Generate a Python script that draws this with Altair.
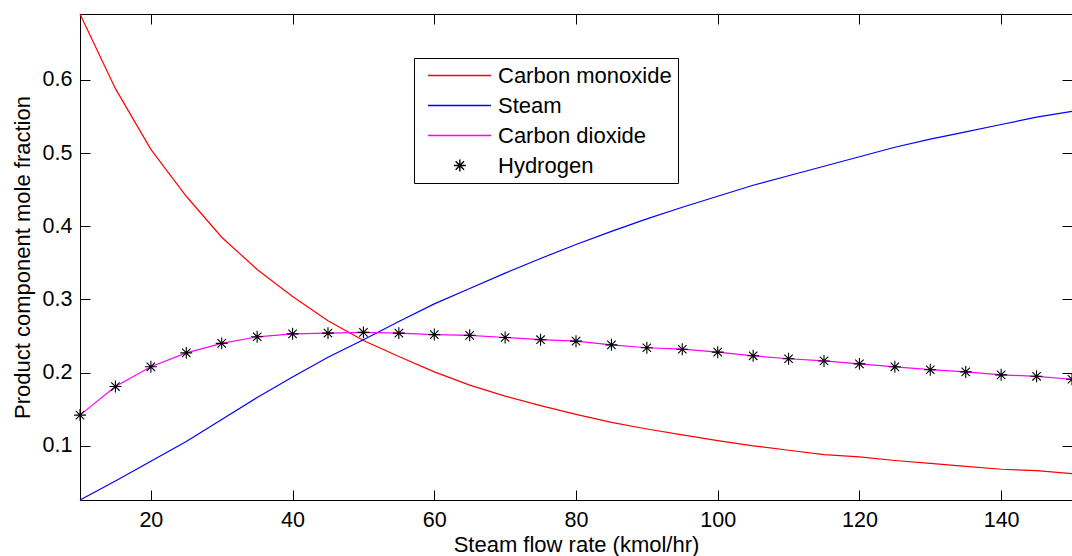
import altair as alt
import pandas as pd

flow = [10, 15, 20, 25, 30, 35, 40, 45, 50, 55, 60, 65, 70, 75, 80,
        85, 90, 95, 100, 105, 110, 115, 120, 125, 130, 135, 140, 145, 150]
carbon_monoxide = [0.690, 0.588, 0.505, 0.441, 0.385, 0.341, 0.304, 0.271, 0.244, 0.222,
                   0.201, 0.183, 0.168, 0.155, 0.143, 0.132, 0.123, 0.115, 0.107, 0.100,
                   0.094, 0.088, 0.085, 0.080, 0.076, 0.072, 0.068, 0.066, 0.062]
steam = [0.026, 0.052, 0.079, 0.106, 0.136, 0.166, 0.194, 0.221, 0.245, 0.270,
         0.294, 0.315, 0.336, 0.356, 0.375, 0.393, 0.410, 0.426, 0.441, 0.456,
         0.469, 0.482, 0.495, 0.508, 0.519, 0.529, 0.539, 0.549, 0.557]
carbon_dioxide = [0.142, 0.181, 0.208, 0.227, 0.240, 0.249, 0.253, 0.254, 0.255, 0.254,
                  0.252, 0.251, 0.248, 0.245, 0.243, 0.238, 0.234, 0.232, 0.228, 0.223,
                  0.219, 0.216, 0.212, 0.208, 0.204, 0.201, 0.197, 0.195, 0.191]
hydrogen = [0.142, 0.181, 0.208, 0.227, 0.240, 0.249, 0.253, 0.254, 0.255, 0.254,
            0.252, 0.251, 0.248, 0.245, 0.243, 0.238, 0.234, 0.232, 0.228, 0.223,
            0.219, 0.216, 0.212, 0.208, 0.204, 0.201, 0.197, 0.195, 0.191]

names = ["Carbon monoxide", "Steam", "Carbon dioxide", "Hydrogen"]
colors = ["#ff0000", "#0000ff", "#ff00ff", "#000000"]
x_ticks = [20, 40, 60, 80, 100, 120, 140]
y_ticks = [0.1, 0.2, 0.3, 0.4, 0.5, 0.6]

FONT = "Liberation Sans"
ASTERISK = "M-0.57,0L0.57,0M0,-0.57L0,0.57M-0.4,-0.4L0.4,0.4M-0.4,0.4L0.4,-0.4"
LEG_LINE = "M-0.333,0L5.667,0"
LEG_AST = "M2.13,0L3.27,0M2.7,-0.57L2.7,0.57M2.3,-0.4L3.1,0.4M2.3,0.4L3.1,-0.4"

rows = []
for name, vals in zip(names[:3], [carbon_monoxide, steam, carbon_dioxide]):
    for f, v in zip(flow, vals):
        rows.append({"flow": f, "value": v, "series": name})
lines_df = pd.DataFrame(rows)
h_df = pd.DataFrame({"flow": flow, "h": hydrogen})
legend_df = pd.DataFrame({"series": names})

xscale = alt.Scale(domain=[10, 150], nice=False, zero=False)
yscale = alt.Scale(domain=[0.026, 0.69], nice=False, zero=False)

lines = alt.Chart(lines_df).mark_line(strokeWidth=1.2).encode(
    x=alt.X("flow:Q", scale=xscale,
            axis=alt.Axis(orient="bottom", values=x_ticks, title="Steam flow rate (kmol/hr)",
                          offset=-10, tickSize=10, domain=False, grid=False,
                          labelPadding=9, labelFontSize=21.5, titleFontSize=22,
                          titleY=61, titleBaseline="alphabetic")),
    y=alt.Y("value:Q", scale=yscale,
            axis=alt.Axis(orient="left", values=y_ticks, format=".1f",
                          title="Product component mole fraction",
                          offset=-10, tickSize=10, domain=False, grid=False,
                          labelPadding=8, labelFontSize=21.5, titleFontSize=22,
                          titleX=-68, titleY=243, titleBaseline="middle")),
    color=alt.Color("series:N", scale=alt.Scale(domain=names[:3], range=colors[:3]), legend=None),
)

pts = alt.Chart(h_df).mark_point(shape=ASTERISK, size=441, color="black",
                                 strokeWidth=1.1, filled=False, opacity=1).encode(
    x=alt.X("flow:Q", scale=xscale,
            axis=alt.Axis(orient="top", values=x_ticks, labels=False, title=None,
                          offset=-10, tickSize=10, domain=False, grid=False)),
    y=alt.Y("h:Q", scale=yscale,
            axis=alt.Axis(orient="right", values=y_ticks, labels=False, title=None,
                          offset=-10, tickSize=10, domain=False, grid=False)),
)

leg = alt.Chart(legend_df).transform_filter("false").mark_point(
    size=441, strokeWidth=1.4, filled=False, opacity=1).encode(
    color=alt.Color("series:N", scale=alt.Scale(domain=names, range=colors),
                    legend=alt.Legend(title=None)),
    shape=alt.Shape("series:N", scale=alt.Scale(domain=names, range=[LEG_LINE, LEG_LINE, LEG_LINE, LEG_AST]),
                    legend=alt.Legend(title=None)),
)

chart = alt.layer(lines, pts, leg).resolve_scale(
    x="independent", y="independent", color="independent", shape="independent"
).properties(
    width=992, height=486,
    padding={"left": 80, "top": 14, "right": 0, "bottom": 56},
    autosize=alt.AutoSizeParams(type="none"),
    background="white",
).configure_view(
    stroke="black", strokeWidth=1
).configure_axis(
    labelFont=FONT, titleFont=FONT, labelColor="black", titleColor="black",
    tickColor="black", tickWidth=1, titleFontWeight="normal",
).configure_legend(
    orient="none", legendX=334, legendY=44,
    padding=6, strokeColor="black", fillColor="white", cornerRadius=0,
    labelFont=FONT, labelFontSize=22, labelColor="black", labelOffset=55,
    symbolSize=441, symbolStrokeWidth=1.4, rowPadding=7, symbolType="circle",
    labelLimit=400,
)

chart.save("out.html", embed_options={"renderer": "svg", "actions": False})
